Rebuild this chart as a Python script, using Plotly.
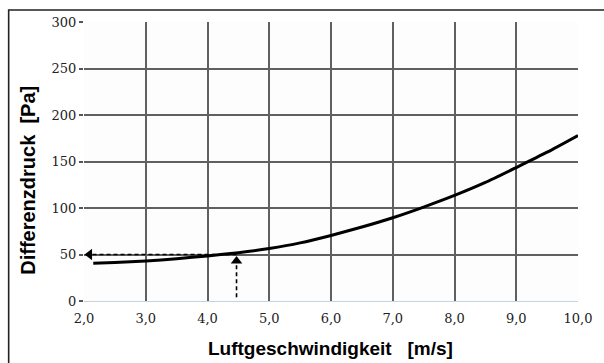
import plotly.graph_objects as go

# Data
speed = [2.15, 2.5, 3.0, 3.5, 4.0, 4.5, 5.0, 5.5, 6.0, 6.5, 7.0, 7.5, 8.0, 8.5, 9.0, 9.5, 10.0]
pressure = [40.5, 41.3, 43, 45.5, 48.5, 52, 56.5, 62.5, 70.5, 79.5, 89.5, 101, 113.5, 127.5, 143.5, 160, 178]

x_ticks = [2, 3, 4, 5, 6, 7, 8, 9, 10]
x_labels = ["2,0", "3,0", "4,0", "5,0", "6,0", "7,0", "8,0", "9,0", "10,0"]
y_ticks = [0, 50, 100, 150, 200, 250, 300]
y_labels = ["0", "50", "100", "150", "200", "250", "300"]

# reading guide (dashed arrows)
guide_h_x = [4.47, 2.1]
guide_h_y = [50, 50]
guide_v_x = [4.47, 4.47]
guide_v_y = [4, 43]
head_h = ([2.09], [50])
head_v = ([4.47], [43])

fig = go.Figure()
fig.add_trace(go.Scatter(x=speed, y=pressure, mode="lines",
                         line=dict(color="black", width=3, shape="spline", smoothing=0.6),
                         hoverinfo="skip"))
fig.add_trace(go.Scatter(x=guide_h_x, y=guide_h_y, mode="lines",
                         line=dict(color="black", width=1.6, dash="4px,3px")))
fig.add_trace(go.Scatter(x=guide_v_x, y=guide_v_y, mode="lines",
                         line=dict(color="black", width=1.6, dash="4px,3px")))
fig.add_trace(go.Scatter(x=head_h[0], y=head_h[1], mode="markers",
                         marker=dict(symbol="triangle-left", size=10, color="black")))
fig.add_trace(go.Scatter(x=head_v[0], y=head_v[1], mode="markers",
                         marker=dict(symbol="triangle-up", size=10, color="black")))

tickfont = dict(family="DejaVu Serif", size=13, color="#222222")

fig.update_layout(
    width=604, height=363,
    margin=dict(l=84, r=15, t=22, b=62),
    paper_bgcolor="white",
    plot_bgcolor="#fdfdfd",
    showlegend=False,
    xaxis=dict(range=[2, 10], tickvals=x_ticks, ticktext=x_labels,
               showgrid=True, gridcolor="#606060", gridwidth=1.5,
               zeroline=False, showline=False,
               ticks="outside", ticklen=5, tickcolor="rgba(0,0,0,0)",
               tickfont=tickfont),
    yaxis=dict(range=[0, 300], tickvals=y_ticks, ticktext=y_labels,
               showgrid=True, gridcolor="#606060", gridwidth=1.5,
               zeroline=True, zerolinecolor="#c9d3dc", zerolinewidth=1,
               showline=False,
               ticks="outside", ticklen=4, tickcolor="#555555", tickwidth=1.5,
               tickfont=tickfont),
    shapes=[dict(type="rect", xref="paper", yref="paper",
                 x0=-0.1525, x1=1.2, y0=-0.35, y1=1.043,
                 line=dict(color="#222222", width=1.6), fillcolor="rgba(0,0,0,0)",
                 layer="below")],
    annotations=[
        dict(text="<b>Luftgeschwindigkeit\u00a0\u00a0\u00a0[m/s]</b>", xref="paper", yref="paper",
             x=0.498, y=-0.172, xanchor="center", yanchor="middle", showarrow=False,
             font=dict(family="Liberation Sans", size=19, color="black")),
        dict(text="<b>Differenzdruck\u00a0\u00a0[Pa]</b>", xref="paper", yref="paper",
             x=-0.1139, y=0.4337, xanchor="center", yanchor="middle", showarrow=False,
             textangle=-90,
             font=dict(family="Liberation Sans", size=20, color="black")),
    ],
)

fig.write_html("out.html", config={"displayModeBar": False},
               post_script="document.body.style.margin='0';document.body.style.overflow='hidden';")
